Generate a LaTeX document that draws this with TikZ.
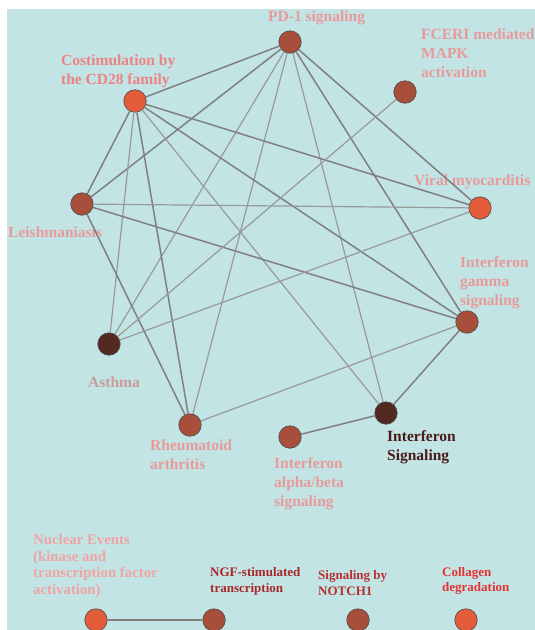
\documentclass[tikz,border=0pt]{standalone}
\usepackage{fontspec}
\setmainfont{Liberation Serif}
\definecolor{bgteal}{HTML}{C3E4E4}
\definecolor{hot}{HTML}{E35D3B}
\definecolor{mid}{HTML}{A84F3C}
\definecolor{deep}{HTML}{532A22}
\definecolor{pinklab}{HTML}{E89A9A}
\definecolor{greylab}{HTML}{C99C9C}
\definecolor{palelab}{HTML}{F0A4A4}
\definecolor{darklab}{HTML}{4A1A1A}
\definecolor{ngflab}{HTML}{A8282A}
\definecolor{notchlab}{HTML}{B53030}
\definecolor{collab}{HTML}{E53232}
\begin{document}
\begin{tikzpicture}
    [ x=1pt, y=-1pt,
      pw/.style={circle,draw=black!70,line width=0.6pt,minimum size=22.5pt,inner sep=0pt},
      lbl/.style={anchor=west,inner sep=0pt,align=left,text=pinklab,font=\bfseries\fontsize{15.5}{18.8}\selectfont},
      sml/.style={lbl,font=\bfseries\fontsize{13}{15.8}\selectfont},
      strong/.style={draw=black!50,line width=1.5pt},
      weak/.style={draw=black!40,line width=1.2pt} ]

    \useasboundingbox (0,0) rectangle (535,630);
    \fill[bgteal] (7,9) rectangle (535,630);

    \node (pd1) at (290,42) [pw,fill=mid] {};
    \node (cos) at (135,101) [pw,fill=hot] {};
    \node (fce) at (405,92) [pw,fill=mid] {};
    \node (lei) at (82,204) [pw,fill=mid] {};
    \node (vir) at (480,208) [pw,fill=hot] {};
    \node (ifg) at (467,322) [pw,fill=mid] {};
    \node (ast) at (109,344) [pw,fill=deep] {};
    \node (rhe) at (190,425) [pw,fill=mid] {};
    \node (ifs) at (386,413) [pw,fill=deep] {};
    \node (ifa) at (290,437) [pw,fill=mid] {};
    \node (nuc) at (96,620) [pw,fill=hot] {};
    \node (ngf) at (214,620) [pw,fill=mid] {};
    \node (not) at (358,620) [pw,fill=mid] {};
    \node (col) at (466,620) [pw,fill=hot] {};

    \node (pd1-l) at (268,18) [lbl] {PD-1 signaling};
    \node (cos-l) at (61,71) [lbl,text=pinklab!85!red] {Costimulation by\\the CD28 family};
    \node (fce-l) at (421,53) [lbl] {FCERI mediated\\MAPK\\activation};
    \node (lei-l) at (8,232) [lbl] {Leishmaniasis};
    \node (vir-l) at (414,182) [lbl] {Viral myocarditis};
    \node (ifg-l) at (460,283) [lbl] {Interferon\\gamma\\signaling};
    \node (ast-l) at (88,382) [lbl,text=greylab] {Asthma};
    \node (rhe-l) at (150,455) [lbl] {Rheumatoid\\arthritis};
    \node (ifs-l) at (387,447) [lbl,text=darklab] {Interferon\\Signaling};
    \node (ifa-l) at (274,484) [lbl] {Interferon\\alpha/beta\\signaling};
    \node (nuc-l) at (33,566) [lbl,text=palelab,font=\bfseries\fontsize{14.8}{16.5}\selectfont] {Nuclear Events\\(kinase and\\transcription factor\\activation)};
    \node (ngf-l) at (210,581) [sml,text=ngflab] {NGF-stimulated\\transcription};
    \node (not-l) at (318,583) [sml,text=notchlab] {Signaling by\\NOTCH1};
    \node (col-l) at (442,581) [sml,text=collab] {Collagen\\degradation};

    \draw[strong] (pd1) -- (cos);
    \draw[strong] (pd1) -- (lei);
    \draw[weak] (pd1) -- (ast);
    \draw[weak] (pd1) -- (rhe);
    \draw[weak] (pd1) -- (ifs);
    \draw[strong] (pd1) -- (ifg);
    \draw[strong] (pd1) -- (vir);

    \draw[strong] (cos) -- (lei);
    \draw[weak] (cos) -- (ast);
    \draw[strong] (cos) -- (rhe);
    \draw[weak] (cos) -- (ifs);
    \draw[strong] (cos) -- (ifg);
    \draw[strong] (cos) -- (vir);

    \draw[weak] (lei) -- (vir);
    \draw[strong] (lei) -- (ifg);
    \draw[strong] (lei) -- (rhe);

    \draw[weak] (ast) -- (fce);
    \draw[weak] (ast) -- (vir);
    \draw[weak] (rhe) -- (ifg);
    \draw[strong] (ifs) -- (ifg);
    \draw[strong] (ifs) -- (ifa);
    \draw[strong] (nuc) -- (ngf);

\end{tikzpicture}
\end{document}
